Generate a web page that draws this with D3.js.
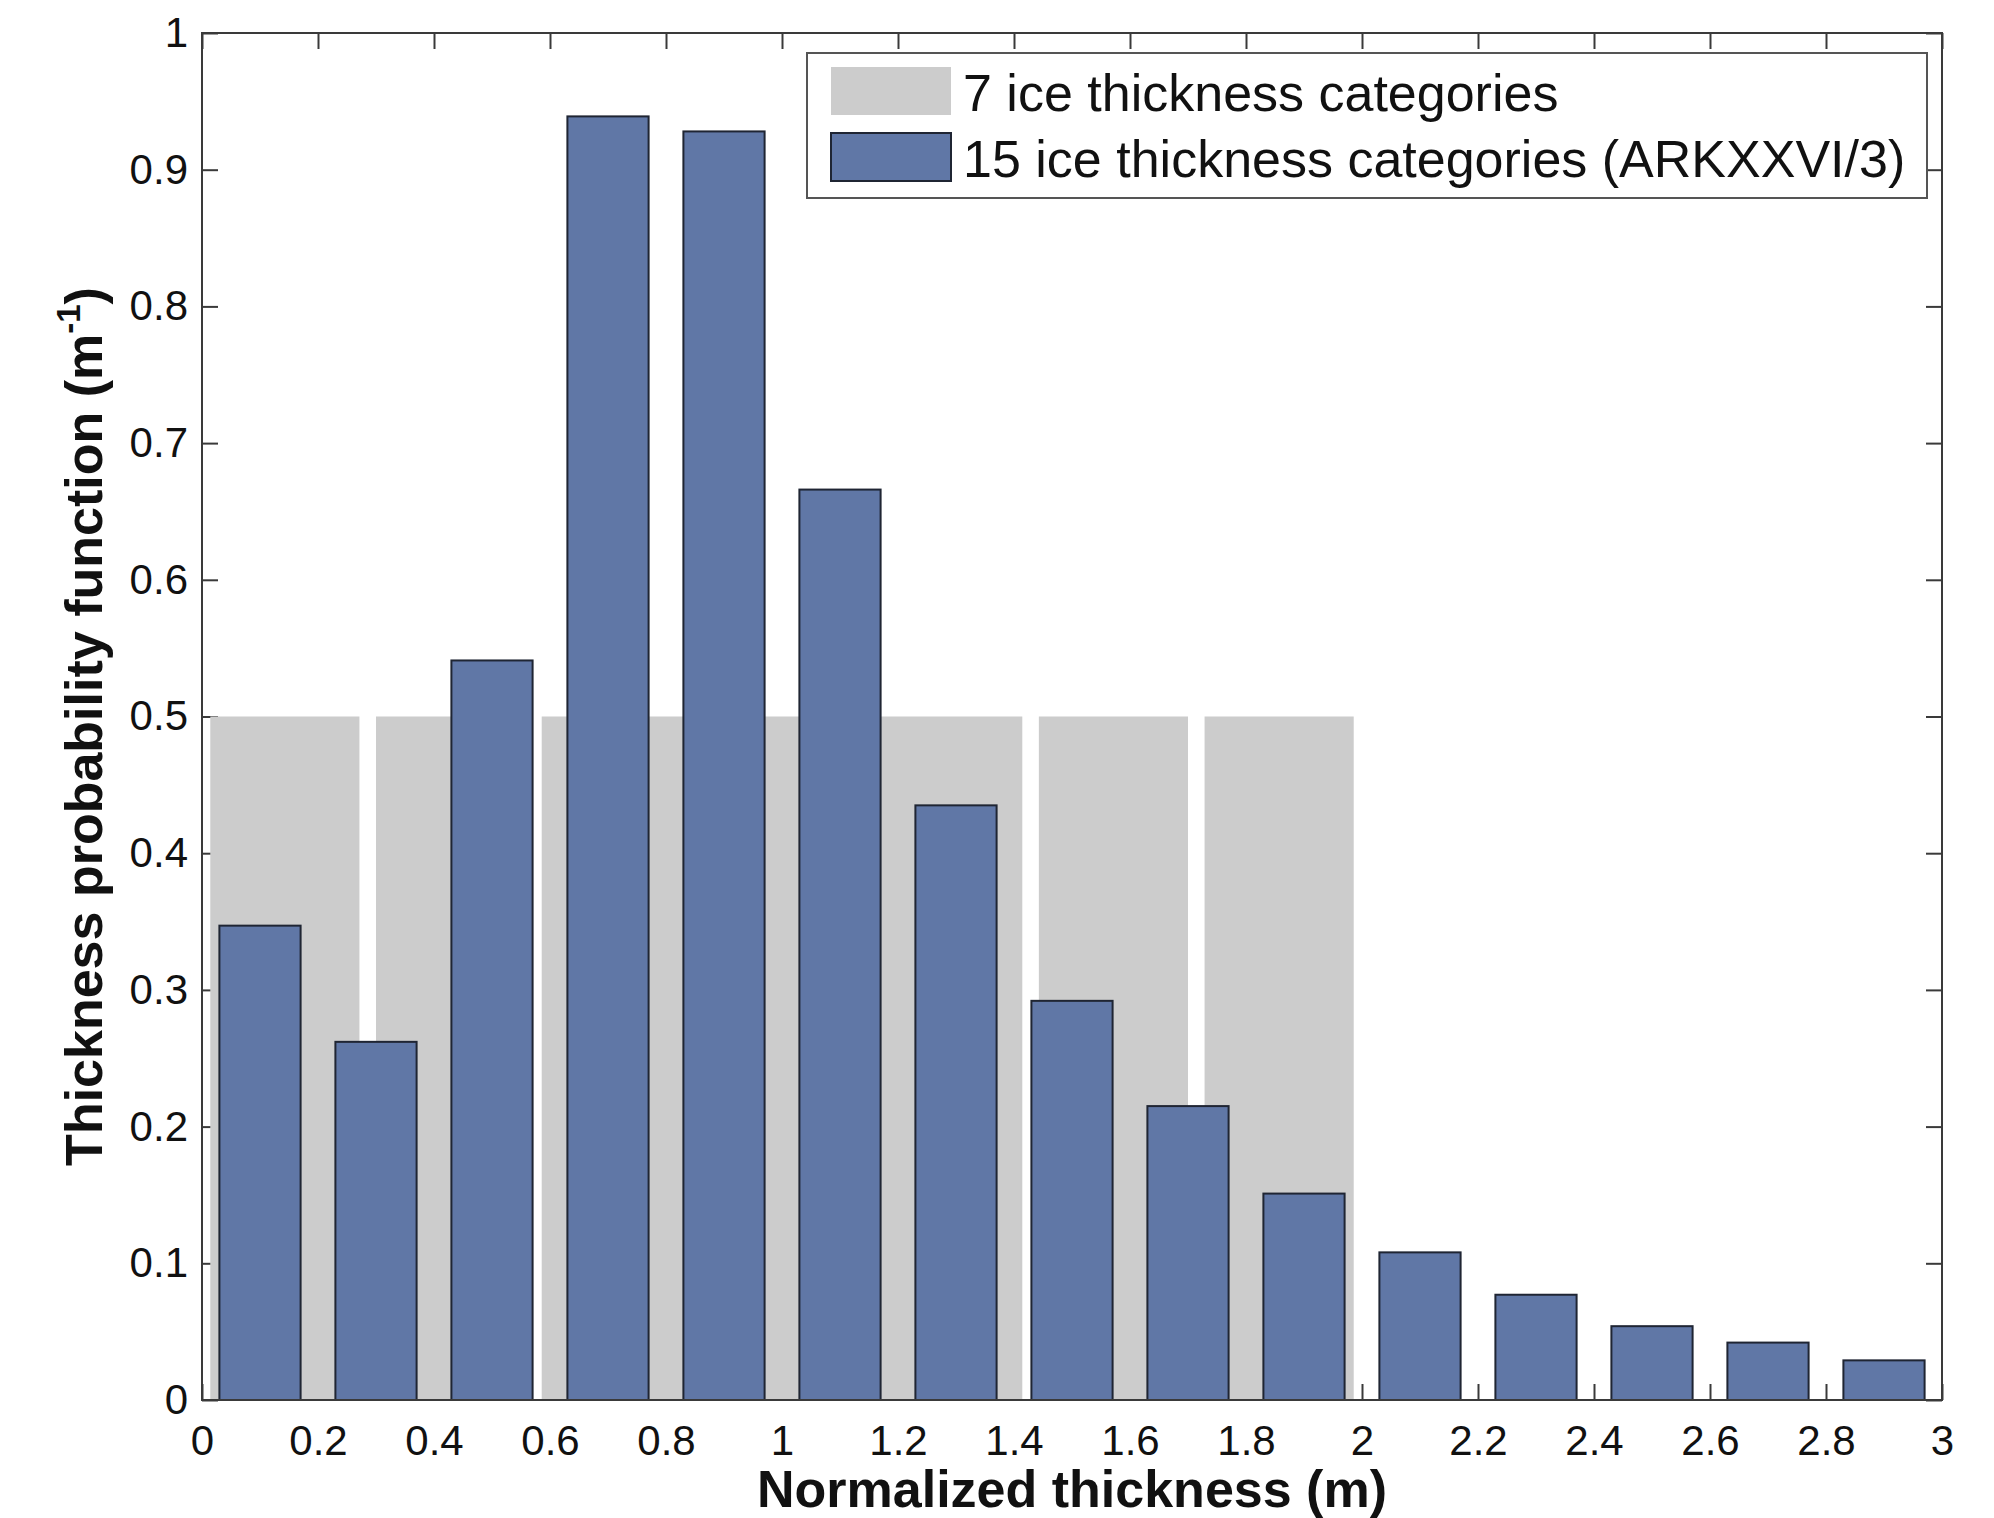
<!DOCTYPE html>
<html>
<head>
<meta charset="utf-8">
<script src="https://cdn.jsdelivr.net/npm/d3@7"></script>
<style>
  body { margin: 0; background: #fff; }
  text { font-family: "Liberation Sans", Arial, Helvetica, sans-serif; }
</style>
</head>
<body>
<div id="chart"></div>
<script>
// data
var fine_centers = [0.1, 0.3, 0.5, 0.7, 0.9, 1.1, 1.3, 1.5, 1.7, 1.9, 2.1, 2.3, 2.5, 2.7, 2.9];
var fine_values  = [0.347, 0.262, 0.541, 0.939, 0.928, 0.666, 0.435, 0.292, 0.215, 0.151, 0.108, 0.077, 0.054, 0.042, 0.029];
var coarse_bins   = [0, 1, 2, 3, 4, 5, 6];
var coarse_values = [0.5, 0.5, 0.5, 0.5, 0.5, 0.5, 0.5];
var x_ticks = [0, 0.2, 0.4, 0.6, 0.8, 1, 1.2, 1.4, 1.6, 1.8, 2, 2.2, 2.4, 2.6, 2.8, 3];
var y_ticks = [0, 0.1, 0.2, 0.3, 0.4, 0.5, 0.6, 0.7, 0.8, 0.9, 1];
var legend_labels = ["7 ice thickness categories", "15 ice thickness categories (ARKXXVI/3)"];

(function(){
    var W = 1994, H = 1518;
    var left = 202, right = 1942, top = 33, bottom = 1400;
    var fine_width = 0.2 * 0.7;           // bar width, m
    var coarse_step = 2 / coarse_bins.length;
    var coarse_width = coarse_step * 0.9;
    var gray = "#cccccc", blue = "#6077a6", edge = "#1f2533", axis_col = "#3a3a3a";

    var svg = d3.select("#chart").append("svg")
	.attr("width", W)
	.attr("height", H);
    svg.append("rect").attr("width", W).attr("height", H).attr("fill", "#fff");

    var x = d3.scaleLinear().domain([0, 3]).range([left, right]);
    var y = d3.scaleLinear().domain([0, 1]).range([bottom, top]);

    //axes (ticks inside, on all four sides)
    var tick_len = 16;
    var style_axis = function(g){
	g.select(".domain").remove();
	g.selectAll(".tick line").attr("stroke", axis_col).attr("stroke-width", 2);
	g.selectAll(".tick text").attr("fill", "#111").attr("font-size", 42);
    };
    var xfmt = function(d){ return d3.format("")(+d.toFixed(1)); };

    svg.append("g")
	.attr("transform", "translate(0," + bottom + ")")
	.call(d3.axisBottom(x).tickValues(x_ticks).tickFormat(xfmt)
	      .tickSizeInner(-tick_len).tickSizeOuter(0).tickPadding(25))
	.call(style_axis);
    svg.append("g")
	.attr("transform", "translate(0," + top + ")")
	.call(d3.axisTop(x).tickValues(x_ticks).tickFormat("")
	      .tickSizeInner(-tick_len).tickSizeOuter(0))
	.call(style_axis);
    svg.append("g")
	.attr("transform", "translate(" + left + ",0)")
	.call(d3.axisLeft(y).tickValues(y_ticks).tickFormat(xfmt)
	      .tickSizeInner(-tick_len).tickSizeOuter(0).tickPadding(14))
	.call(style_axis);
    svg.append("g")
	.attr("transform", "translate(" + right + ",0)")
	.call(d3.axisRight(y).tickValues(y_ticks).tickFormat("")
	      .tickSizeInner(-tick_len).tickSizeOuter(0))
	.call(style_axis);

    //coarse categories (gray)
    svg.append("g").selectAll("rect")
	.data(coarse_bins)
	.enter().append("rect")
	.attr("x", function(d){ return x((d + 0.5) * coarse_step - coarse_width / 2); })
	.attr("width", function(){ return x(coarse_width) - x(0); })
	.attr("y", function(d, i){ return y(coarse_values[i]); })
	.attr("height", function(d, i){ return y(0) - y(coarse_values[i]); })
	.attr("fill", gray);

    //fine categories (blue)
    svg.append("g").selectAll("rect")
	.data(fine_centers)
	.enter().append("rect")
	.attr("x", function(d){ return x(d - fine_width / 2); })
	.attr("width", function(){ return x(fine_width) - x(0); })
	.attr("y", function(d, i){ return y(fine_values[i]); })
	.attr("height", function(d, i){ return y(0) - y(fine_values[i]); })
	.attr("fill", blue)
	.attr("stroke", edge)
	.attr("stroke-width", 2);

    //box
    svg.append("rect")
	.attr("x", left).attr("y", top)
	.attr("width", right - left).attr("height", bottom - top)
	.attr("fill", "none")
	.attr("stroke", axis_col)
	.attr("stroke-width", 2);

    //axis titles
    svg.append("text")
	.attr("x", (left + right) / 2)
	.attr("y", 1507)
	.attr("text-anchor", "middle")
	.attr("font-size", 52)
	.attr("font-weight", "bold")
	.attr("fill", "#111")
	.text("Normalized thickness (m)");

    var yt = svg.append("text")
	.attr("transform", "translate(102," + ((top + bottom) / 2 + 10) + ") rotate(-90)")
	.attr("text-anchor", "middle")
	.attr("font-size", 52)
	.attr("font-weight", "bold")
	.attr("fill", "#111");
    yt.append("tspan").text("Thickness probability function (m");
    yt.append("tspan").attr("font-size", 33).attr("dy", -22).text("-1");
    yt.append("tspan").attr("dy", 22).text(")");

    //legend
    var lg = svg.append("g");
    lg.append("rect")
	.attr("x", 807).attr("y", 53)
	.attr("width", 1120).attr("height", 145)
	.attr("fill", "#fff")
	.attr("stroke", "#555")
	.attr("stroke-width", 2);
    var swatch = [{fill: gray, stroke: "none"}, {fill: blue, stroke: edge}];
    var rows = lg.selectAll("g.row")
	.data(legend_labels)
	.enter().append("g")
	.attr("class", "row")
	.attr("transform", function(d, i){ return "translate(0," + (i * 66) + ")"; });
    rows.append("rect")
	.attr("x", 831).attr("y", 67)
	.attr("width", 120).attr("height", 48)
	.attr("fill", function(d, i){ return swatch[i].fill; })
	.attr("stroke", function(d, i){ return swatch[i].stroke; })
	.attr("stroke-width", 2);
    rows.append("text")
	.attr("x", 963).attr("y", 111)
	.attr("font-size", 52)
	.attr("fill", "#111")
	.text(function(d){ return d; });
})();
</script>
</body>
</html>
